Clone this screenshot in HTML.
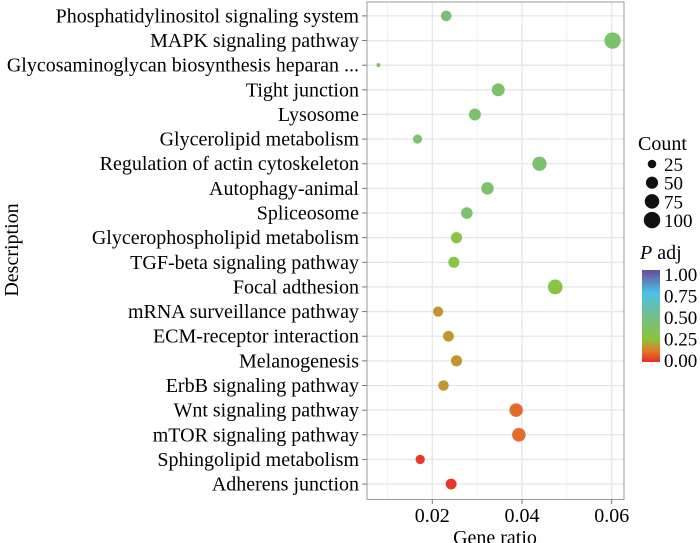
<!DOCTYPE html>
<html><head><meta charset="utf-8"><style>
html,body{margin:0;padding:0;background:#fff;}
svg{display:block;font-family:"Liberation Serif",serif;}
</style></head><body>
<svg id="chart" width="700" height="543" viewBox="0 0 700 543" xmlns="http://www.w3.org/2000/svg">
<defs>
<linearGradient id="cbar" x1="0" y1="1" x2="0" y2="0">
<stop offset="0" stop-color="#ea2a2a"/>
<stop offset="0.12" stop-color="#e27a2a"/>
<stop offset="0.25" stop-color="#8cc43c"/>
<stop offset="0.5" stop-color="#72c08a"/>
<stop offset="0.75" stop-color="#4cc3e6"/>
<stop offset="1" stop-color="#6a4a9c"/>
</linearGradient>
</defs>
<g id="grid"></g>
<g id="points"></g>
<rect x="367" y="2" width="257" height="497.5" fill="none" stroke="#999" stroke-width="1"/>
<g id="ylabels" font-size="20" text-anchor="end"></g>
<g id="xticks" font-size="20" text-anchor="middle"></g>
<text x="495" y="544" font-size="20" text-anchor="middle">Gene ratio</text>
<text transform="translate(18,250) rotate(-90)" font-size="20" text-anchor="middle">Description</text>
<g>
<text x="638" y="150" font-size="20">Count</text>
<g id="sizeleg"></g>
</g>
<g>
<text x="640" y="259" font-size="20"><tspan font-style="italic">P</tspan> adj</text>
<rect x="642" y="270" width="18" height="92" fill="url(#cbar)"/>
<g id="colleg" font-size="19"></g>
</g>
</svg>
<script>
const categories=["Phosphatidylinositol signaling system","MAPK signaling pathway","Glycosaminoglycan biosynthesis heparan ...","Tight junction","Lysosome","Glycerolipid metabolism","Regulation of actin cytoskeleton","Autophagy-animal","Spliceosome","Glycerophospholipid metabolism","TGF-beta signaling pathway","Focal adthesion","mRNA surveillance pathway","ECM-receptor interaction","Melanogenesis","ErbB signaling pathway","Wnt signaling pathway","mTOR signaling pathway","Sphingolipid metabolism","Adherens junction"];
const geneRatio=[0.0231,0.0602,0.0080,0.0347,0.0295,0.0167,0.0439,0.0323,0.0277,0.0254,0.0248,0.0474,0.0213,0.0236,0.0254,0.0225,0.0387,0.0393,0.0173,0.0242];
const counts=[38,100,13,58,49,28,73,54,46,42,41,79,35,39,42,37,64,65,29,40];
const padj=[0.45,0.40,0.38,0.40,0.40,0.40,0.40,0.40,0.40,0.28,0.28,0.28,0.17,0.17,0.17,0.17,0.10,0.10,0.02,0.02];
const xTicks=[0.02,0.04,0.06];
const xMinor=[0.01,0.03,0.05];
const sizeLegend=[25,50,75,100];
const colorTicks=[1.00,0.75,0.50,0.25,0.00];

const NS="http://www.w3.org/2000/svg";
const xs=v=>432.3+(v-0.02)*4485;
const ys=i=>15.9+i*24.64;
const rs=c=>2+6.2*Math.sqrt(Math.max(0,c-13)/87);
const stops=[[0,[234,42,42]],[0.12,[226,122,42]],[0.25,[140,196,60]],[0.5,[114,192,138]],[0.75,[76,195,230]],[1,[106,74,156]]];
function col(p){for(let k=0;k<stops.length-1;k++){const a=stops[k],b=stops[k+1];if(p<=b[0]){const t=(p-a[0])/(b[0]-a[0]);return "rgb("+a[1].map((v,j)=>Math.round(v+(b[1][j]-v)*t)).join(",")+")";}}return "rgb(106,74,156)";}
function mk(tag,attrs,parent){const e=document.createElementNS(NS,tag);for(const k in attrs)e.setAttribute(k,attrs[k]);parent.appendChild(e);return e;}
const grid=document.getElementById('grid');
xMinor.forEach(v=>{const l=mk('line',{x1:xs(v),x2:xs(v),y1:2,y2:499.5,stroke:'#f2f2f2','stroke-width':1},grid);

});
xTicks.forEach(v=>{const l=mk('line',{x1:xs(v),x2:xs(v),y1:2,y2:499.5,stroke:'#e6e6e6','stroke-width':1.3},grid);

});
const yl=document.getElementById('ylabels');
categories.forEach((c,i)=>{const l=mk('line',{x1:367,x2:624,y1:ys(i),y2:ys(i),stroke:'#e6e6e6','stroke-width':1.3},grid);


const t=mk('line',{x1:362,x2:367,y1:ys(i),y2:ys(i),stroke:'#777','stroke-width':1},yl);


const tx=mk('text',{x:359,y:ys(i)+6.5},yl);tx.textContent=c;

});
const pts=document.getElementById('points');
geneRatio.forEach((g,i)=>{const c=mk('circle',{cx:xs(g),cy:ys(i),r:rs(counts[i]),fill:col(padj[i])},pts);

});
const xt=document.getElementById('xticks');
xTicks.forEach(v=>{const t=mk('line',{x1:xs(v),x2:xs(v),y1:499.5,y2:504,stroke:'#777'},xt);


const tx=mk('text',{x:xs(v),y:522},xt);tx.textContent=v.toFixed(2);

});
const sl=document.getElementById('sizeleg');
sizeLegend.forEach((c,i)=>{const y=164+i*18.7;
const d=mk('circle',{cx:652,cy:y,r:rs(c),fill:'#111'},sl);


const t=mk('text',{x:664,y:y+7,'font-size':19},sl);t.textContent=c;

});
const cl=document.getElementById('colleg');
colorTicks.forEach(v=>{const y=360-v*86;
const t=mk('text',{x:664,y:y+7},cl);t.textContent=v.toFixed(2);

});
</script>
</body></html>
